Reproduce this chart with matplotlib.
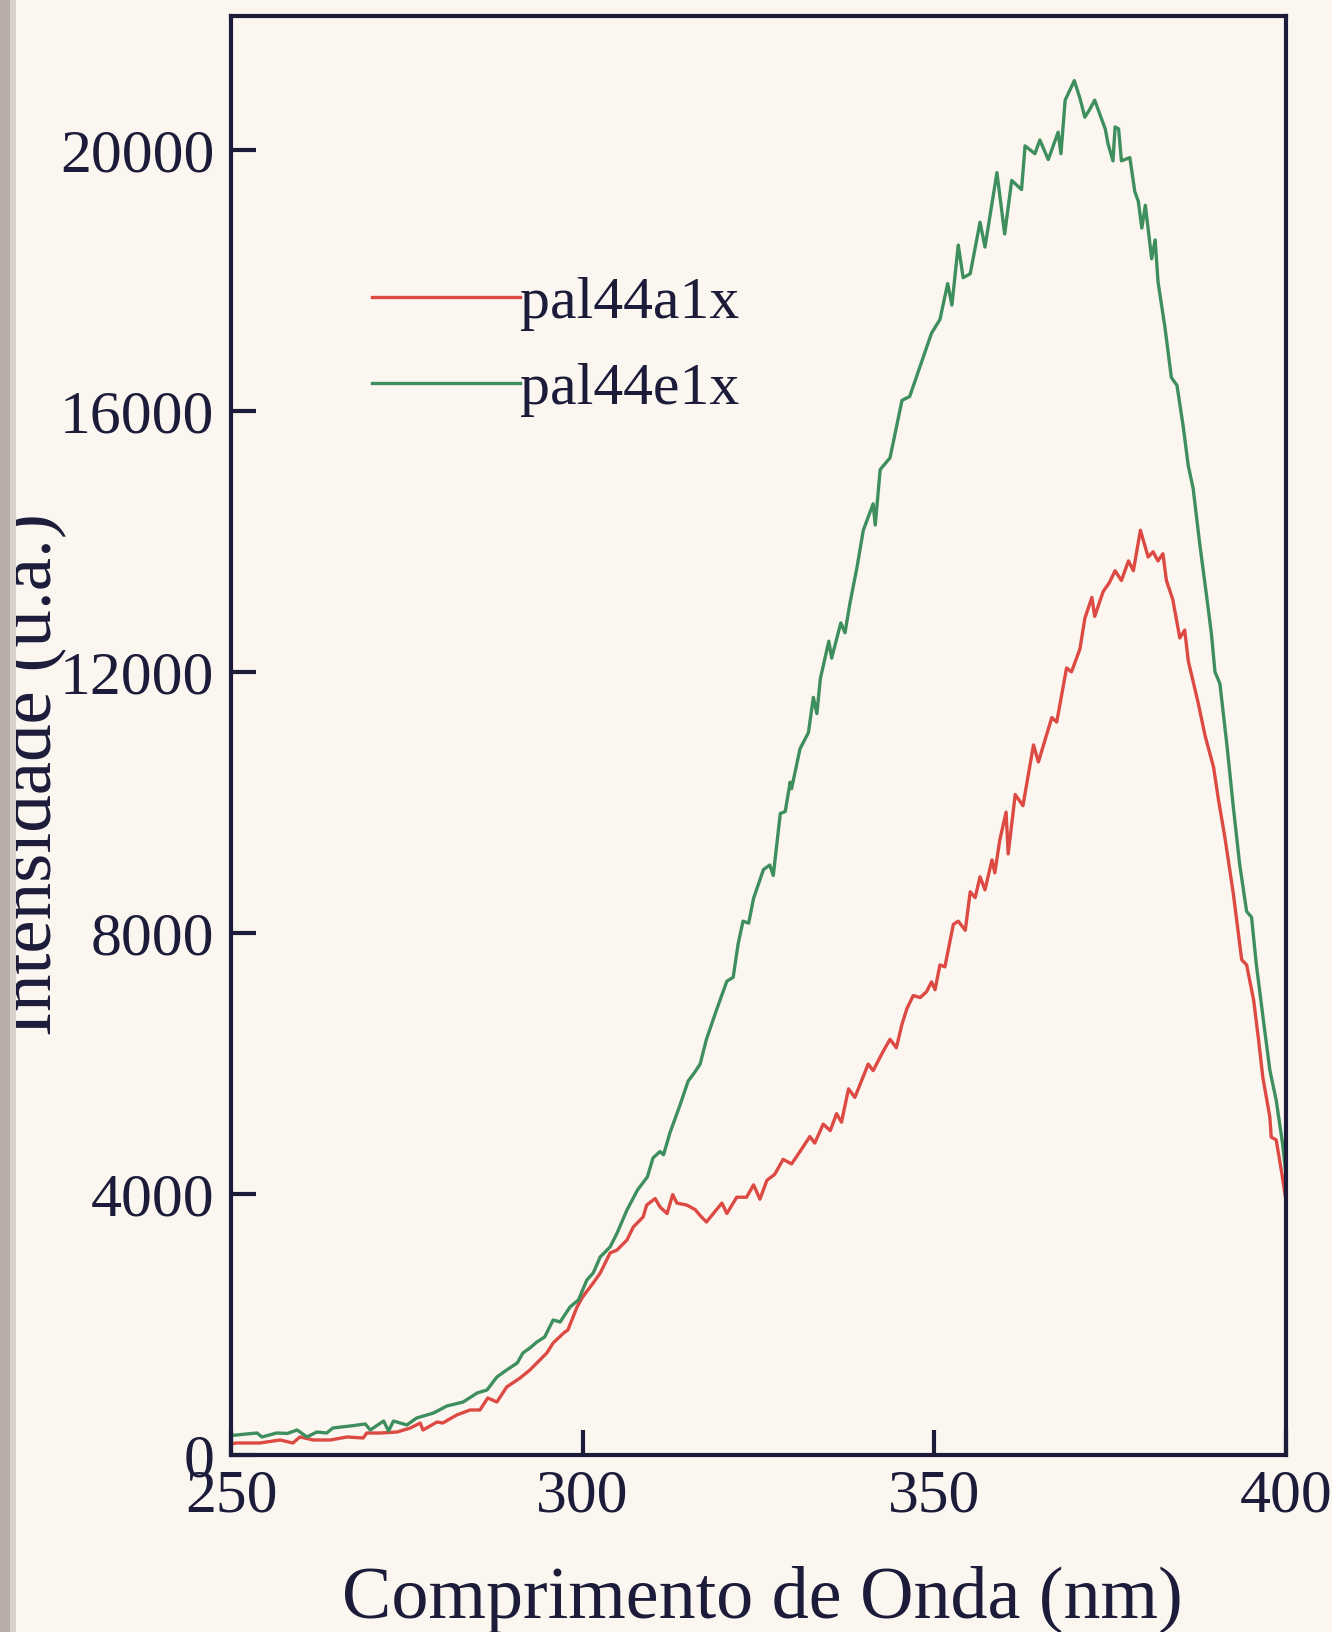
import matplotlib
matplotlib.use("Agg")
import matplotlib.pyplot as plt
from matplotlib.patches import Rectangle

# ---------------- data ----------------
wl_e1x = [250.0, 250.8, 252.0, 253.7, 254.4, 256.5, 258.0, 259.4, 260.8, 262.2,
          263.6, 264.5, 266.9, 269.1, 269.8, 271.7, 272.4, 273.1, 275.0, 276.4,
          278.8, 280.7, 283.0, 285.0, 286.4, 287.8, 289.2, 290.7, 291.5, 292.5,
          293.5, 294.6, 295.8, 296.8, 298.2, 299.4, 300.6, 301.5, 302.5, 303.9,
          304.9, 306.3, 307.8, 309.2, 310.0, 311.0, 311.5, 312.4, 313.8, 315.0,
          315.9, 316.7, 317.6, 319.0, 320.5, 321.4, 322.1, 322.8, 323.6, 324.3,
          325.7, 326.6, 327.1, 328.1, 328.8, 329.5, 329.7, 330.9, 332.1, 332.8,
          333.3, 333.8, 335.0, 335.4, 336.7, 337.3, 338.0, 339.0, 339.9, 341.3,
          341.6, 342.3, 343.7, 345.4, 346.5, 348.0, 349.6, 350.8, 351.9, 352.5,
          353.4, 354.1, 355.1, 356.5, 357.2, 358.9, 360.0, 361.0, 362.4, 362.9,
          364.3, 365.0, 366.2, 367.6, 368.0, 368.6, 369.9, 370.7, 371.4, 372.1,
          372.8, 374.3, 374.7, 375.4, 375.7, 376.2, 376.6, 377.8, 378.5, 379.0,
          379.5, 380.0, 380.9, 381.4, 381.8, 382.8, 383.7, 384.5, 385.4, 386.1,
          386.8, 387.7, 388.7, 389.4, 389.9, 390.6, 391.6, 392.5, 393.4, 394.4,
          395.1, 395.8, 396.8, 397.7, 398.6, 399.5, 400.0]
int_e1x = [300, 306, 320, 337, 276, 337, 330, 383, 276, 352,
           337, 414, 444, 475, 383, 521, 368, 521, 460, 567,
           644, 751, 812, 950, 996, 1195, 1303, 1410, 1563, 1640,
           1732, 1809, 2069, 2038, 2268, 2376, 2682, 2789, 3035, 3188,
           3402, 3755, 4061, 4261, 4552, 4650, 4600, 4935, 5350, 5730,
           5860, 5990, 6370, 6810, 7260, 7320, 7830, 8180, 8150, 8530,
           8970, 9040, 8880, 9830, 9860, 10310, 10210, 10820, 11070, 11610,
           11360, 11900, 12470, 12210, 12750, 12600, 13050, 13600, 14170, 14575,
           14250, 15100, 15280, 16160, 16220, 16690, 17190, 17400, 17950, 17620,
           18540, 18040, 18100, 18890, 18510, 19650, 18710, 19530, 19390, 20060,
           19940, 20150, 19850, 20270, 19940, 20760, 21060, 20790, 20500, 20620,
           20760, 20320, 20090, 19830, 20350, 20320, 19830, 19880, 19360, 19210,
           18800, 19150, 18330, 18620, 17980, 17270, 16510, 16390, 15750, 15160,
           14810, 13990, 13170, 12580, 12000, 11820, 10880, 9940, 9060, 8330,
           8240, 7500, 6650, 5900, 5440, 4780, 4300]

wl_a1x = [250.0, 250.8, 254.1, 257.0, 258.8, 259.8, 261.7, 264.1, 266.5, 268.8,
          269.3, 271.2, 273.6, 275.5, 276.9, 277.3, 279.3, 280.1, 282.1, 284.0,
          285.4, 286.5, 287.8, 289.2, 291.1, 292.5, 293.9, 294.9, 295.8, 297.3,
          297.9, 299.2, 300.0, 301.5, 302.5, 303.9, 304.9, 306.3, 307.2, 308.6,
          309.1, 310.3, 311.0, 312.0, 312.8, 313.4, 314.8, 316.0, 316.7, 317.6,
          318.8, 319.8, 320.5, 321.9, 323.3, 324.3, 325.2, 326.2, 327.3, 328.5,
          329.7, 330.9, 332.3, 333.0, 334.2, 335.2, 336.1, 336.8, 337.8, 338.7,
          340.6, 341.3, 342.7, 343.7, 344.6, 345.4, 346.1, 347.0, 348.0, 348.9,
          349.6, 350.1, 350.8, 351.5, 352.7, 353.4, 354.4, 355.1, 355.8, 356.5,
          357.2, 358.2, 358.6, 359.3, 360.2, 360.5, 361.5, 362.6, 364.1, 364.8,
          366.7, 367.4, 368.8, 369.5, 370.7, 371.4, 372.4, 372.8, 374.0, 374.9,
          375.7, 376.6, 377.6, 378.3, 379.3, 380.4, 381.1, 381.8, 382.5, 383.0,
          383.9, 384.9, 385.6, 386.1, 387.5, 388.5, 389.7, 390.4, 391.3, 392.5,
          393.7, 394.4, 395.4, 396.1, 396.7, 397.7, 397.9, 398.6, 399.4, 400.0]
int_a1x = [170, 184, 184, 230, 184, 276, 230, 230, 276, 261,
           337, 337, 352, 414, 490, 383, 506, 490, 613, 690,
           690, 874, 812, 1042, 1180, 1303, 1456, 1563, 1716, 1870,
           1916, 2268, 2422, 2636, 2789, 3096, 3142, 3295, 3494, 3648,
           3830, 3930, 3800, 3700, 3990, 3860, 3830, 3760, 3670, 3570,
           3730, 3860, 3700, 3950, 3950, 4140, 3920, 4210, 4300, 4530,
           4460, 4650, 4880, 4780, 5070, 4970, 5230, 5100, 5610, 5480,
           5990, 5890, 6180, 6370, 6240, 6600, 6840, 7040, 7010, 7100,
           7250, 7130, 7510, 7480, 8130, 8180, 8040, 8630, 8540, 8860,
           8660, 9120, 8920, 9420, 9850, 9210, 10120, 9950, 10880, 10620,
           11300, 11230, 12060, 12000, 12350, 12820, 13140, 12850, 13230, 13370,
           13550, 13400, 13700, 13550, 14170, 13760, 13840, 13700, 13810, 13400,
           13110, 12520, 12640, 12170, 11530, 11020, 10540, 10040, 9470, 8610,
           7590, 7510, 6970, 6360, 5790, 5180, 4870, 4830, 4320, 3900]

series_labels = ["pal44a1x", "pal44e1x"]
x_ticks = [250, 300, 350, 400]
y_ticks = [0, 4000, 8000, 12000, 16000, 20000]

# ---------------- style ----------------
BG = "#fbf7f0"
INK = "#1c1c3a"
RED = "#dc4a43"
GREEN = "#3f8f5e"
plt.rcParams["font.family"] = ["Liberation Serif", "DejaVu Serif"]

fig = plt.figure(figsize=(13.32, 16.32), dpi=100, facecolor=BG)
ax = fig.add_axes([231 / 1332, 1 - 1455 / 1632, (1286 - 231) / 1332, (1455 - 16) / 1632])
ax.set_facecolor(BG)

ax.plot(wl_a1x, int_a1x, color=RED, lw=2.4, label=series_labels[0])
ax.plot(wl_e1x, int_e1x, color=GREEN, lw=2.4, label=series_labels[1])

ax.set_xlim(250, 400)
ax.set_ylim(0, 22050)
ax.set_xticks(x_ticks)
ax.set_yticks(y_ticks)
ax.set_xticklabels([str(v) for v in x_ticks])
ax.set_yticklabels([str(v) for v in y_ticks])

for s in ax.spines.values():
    s.set_linewidth(3.0)
    s.set_color(INK)
ax.tick_params(axis="both", direction="in", length=18, width=3, colors=INK,
               labelsize=44.5, labelcolor=INK)
ax.tick_params(axis="y", pad=12)
ax.tick_params(axis="x", pad=10)
ax.tick_params(top=False, right=False)

leg = ax.legend(loc="upper left", bbox_to_anchor=(0.1336, 0.819), frameon=False,
                fontsize=43, handlelength=2.48, handletextpad=0.0,
                labelspacing=0.52, borderpad=0, borderaxespad=0)
for t in leg.get_texts():
    t.set_color(INK)
for l in leg.get_lines():
    l.set_linewidth(2.4)

fig.text(762 / 1332, 1 - 1618 / 1632, "Comprimento de Onda (nm)", ha="center",
         va="baseline", fontsize=53.3, color=INK)
fig.text(32 / 1332, 1 - 775 / 1632, "Intensidade (u.a.)", ha="center",
         va="center", rotation=90, fontsize=54, color=INK)

# page gutter strip at the left edge of the scan
fig.patches.append(Rectangle((0, 0), 10 / 1332, 1, transform=fig.transFigure,
                             facecolor="#b8aca6", edgecolor="none", zorder=10))
fig.patches.append(Rectangle((10 / 1332, 0), 6 / 1332, 1, transform=fig.transFigure,
                             facecolor="#d9d0ca", edgecolor="none", zorder=10))

fig.savefig("out.png", dpi=100, facecolor=BG)
